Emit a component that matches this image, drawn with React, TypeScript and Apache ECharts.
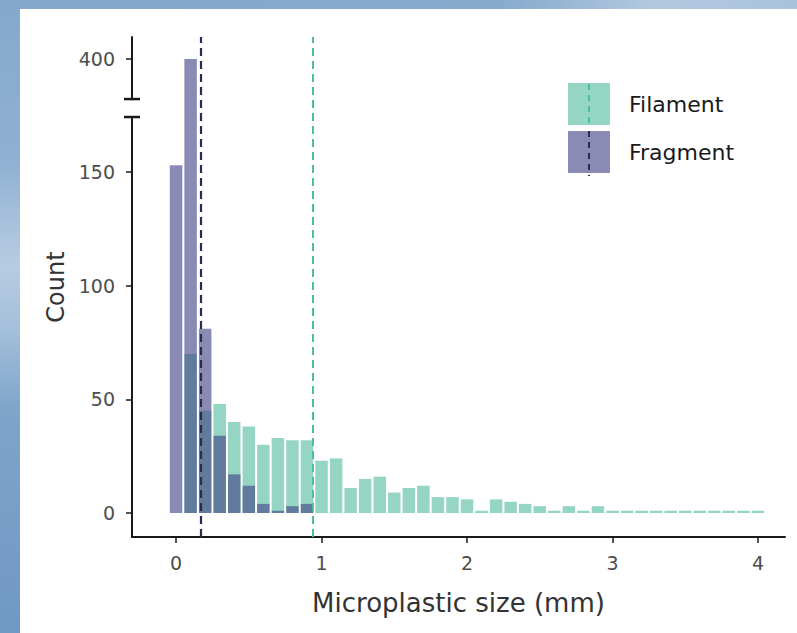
import React, { useEffect, useRef } from "react";
import * as echarts from "echarts";

// ---- data ----
const SIZE_BINS = [
  0, 0.1, 0.2, 0.3, 0.4, 0.5, 0.6, 0.7, 0.8, 0.9,
  1.0, 1.1, 1.2, 1.3, 1.4, 1.5, 1.6, 1.7, 1.8, 1.9,
  2.0, 2.1, 2.2, 2.3, 2.4, 2.5, 2.6, 2.7, 2.8, 2.9,
  3.0, 3.1, 3.2, 3.3, 3.4, 3.5, 3.6, 3.7, 3.8, 3.9, 4.0,
];
const FILAMENT_COUNTS = [
  0, 70, 45, 48, 40, 38, 30, 33, 32, 32,
  23, 24, 11, 15, 16, 9, 11, 12, 7, 7,
  6, 1, 6, 5, 4, 3, 1, 3, 1, 3,
  1, 1, 1, 1, 1, 1, 1, 1, 1, 1, 1,
];
const FRAGMENT_COUNTS = [153, 400, 81, 34, 17, 12, 4, 1, 3, 4, 0];
const FILAMENT_MEAN = 0.94;
const FRAGMENT_MEAN = 0.17;
const X_TICKS = [0, 1, 2, 3, 4];
const Y_TICKS = [0, 50, 100, 150, 400];

// ---- broken y axis (lower segment up to LOWER_MAX, upper segment from UPPER_MIN) ----
const LOWER_MAX = 174.2;
const UPPER_MIN = 382.4;
const GAP = 7.9;
const SHIFT = UPPER_MIN - (LOWER_MAX + GAP);
const toAxis = (v: number) => (v > LOWER_MAX ? v - SHIFT : v);
const fromAxis = (t: number) => (t > LOWER_MAX ? t + SHIFT : t);

const X_MIN = -0.303;
const X_MAX = 4.186;
const Y_MIN = -10.56;
const Y_MAX = 209.4;

const FONT = "DejaVu Sans";
const FIL_COLOR = "#22A884";
const FRAG_COLOR = "#414487";

export default function App() {
  const ref = useRef<HTMLDivElement>(null);

  useEffect(() => {
    if (!ref.current) return;
    const chart = echarts.init(ref.current, null, { renderer: "svg" });

    const filData = SIZE_BINS.map((x, i) => [x, toAxis(FILAMENT_COUNTS[i])]);
    const fragData = FRAGMENT_COUNTS.map((v, i) => [SIZE_BINS[i], toAxis(v)]);

    chart.setOption({
      animation: false,
      backgroundColor: "transparent",
      grid: { left: 132, right: 12, top: 37, bottom: 96, containLabel: false },
      legend: {
        left: 568,
        top: 83,
        orient: "vertical",
        icon: "rect",
        itemWidth: 42,
        itemHeight: 42,
        itemGap: 6,
        padding: 0,
        selectedMode: false,
        textStyle: { fontFamily: FONT, fontSize: 22, color: "#1a1a1a", padding: [0, 0, 0, 14] },
        data: ["Filament", "Fragment"],
      },
      xAxis: {
        type: "value",
        min: X_MIN,
        max: X_MAX,
        name: "Microplastic size (mm)",
        nameLocation: "middle",
        nameGap: 53,
        nameTextStyle: { fontFamily: FONT, fontSize: 26, color: "#333333" },
        axisLine: { show: true, onZero: false, lineStyle: { color: "#1a1a1a", width: 2 } },
        axisTick: { show: true, length: 6, customValues: X_TICKS, lineStyle: { color: "#1a1a1a", width: 1.5 } },
        axisLabel: {
          customValues: X_TICKS,
          fontFamily: FONT,
          fontSize: 19,
          color: "#4d4d4d",
          margin: 16,
        },
        splitLine: { show: false },
      },
      yAxis: {
        type: "value",
        min: Y_MIN,
        max: Y_MAX,
        name: "Count",
        nameLocation: "middle",
        nameGap: 55,
        nameTextStyle: { fontFamily: FONT, fontSize: 24, color: "#333333" },
        axisLine: { show: true, onZero: false, lineStyle: { color: "#1a1a1a", width: 2 } },
        axisTick: {
          show: true,
          length: 6,
          customValues: Y_TICKS.map(toAxis),
          lineStyle: { color: "#1a1a1a", width: 1.5 },
        },
        axisLabel: {
          customValues: Y_TICKS.map(toAxis),
          formatter: (t: number) => String(Math.round(fromAxis(t))),
          fontFamily: FONT,
          fontSize: 19,
          color: "#4d4d4d",
          margin: 17,
        },
        splitLine: { show: false },
      },
      series: [
        {
          name: "Filament",
          type: "bar",
          data: filData,
          barWidth: 12.5,
          barGap: "-100%",
          itemStyle: { color: FIL_COLOR, opacity: 0.48 },
          markLine: {
            silent: true,
            symbol: ["none", "none"],
            label: { show: false },
            lineStyle: { color: "#4cbf9c", type: [8, 5], width: 2, opacity: 1 },
            data: [{ xAxis: FILAMENT_MEAN }],
          },
        },
        {
          name: "Fragment",
          type: "bar",
          data: fragData,
          barWidth: 12.5,
          barGap: "-100%",
          itemStyle: { color: FRAG_COLOR, opacity: 0.62 },
          markLine: {
            silent: true,
            symbol: ["none", "none"],
            label: { show: false },
            lineStyle: { color: "#2a2a55", type: [8, 5], width: 2.2, opacity: 1 },
            data: [{ xAxis: FRAGMENT_MEAN }],
          },
        },
      ],
    });

    const pLow = chart.convertToPixel({ gridIndex: 0 }, [X_MIN, LOWER_MAX]) as number[];
    const pHigh = chart.convertToPixel({ gridIndex: 0 }, [X_MIN, LOWER_MAX + GAP]) as number[];
    const ax = pLow[0];
    const yLow = pLow[1];
    const yHigh = pHigh[1];

    const keyX = 568 + 21;
    chart.setOption({
      graphic: [
        {
          type: "rect",
          z: 100,
          shape: { x: ax - 4, y: yHigh + 1, width: 8, height: yLow - yHigh - 2 },
          style: { fill: "#ffffff" },
        },
        {
          type: "line",
          z: 101,
          shape: { x1: ax - 8, y1: yHigh, x2: ax + 8, y2: yHigh },
          style: { stroke: "#1a1a1a", lineWidth: 2.5 },
        },
        {
          type: "line",
          z: 101,
          shape: { x1: ax - 8, y1: yLow, x2: ax + 8, y2: yLow },
          style: { stroke: "#1a1a1a", lineWidth: 2.5 },
        },
        {
          type: "line",
          z: 101,
          shape: { x1: keyX, y1: 84, x2: keyX, y2: 125 },
          style: { stroke: "#4cbf9c", lineWidth: 2, lineDash: [6, 5] },
        },
        {
          type: "line",
          z: 101,
          shape: { x1: keyX, y1: 131, x2: keyX, y2: 176 },
          style: { stroke: "#2a2a55", lineWidth: 2, lineDash: [6, 5] },
        },
      ],
    });

    return () => chart.dispose();
  }, []);

  return (
    <div style={{ position: "fixed", left: 0, top: 0, width: 797, height: 633, overflow: "hidden" }}>
      <div
        style={{
          position: "absolute",
          left: 0,
          top: 0,
          width: 797,
          height: 633,
          background: "linear-gradient(90deg, #84a8cc 0%, #86a9cc 62%, #b2c9e0 82%, #a9c2dc 100%)",
        }}
      />
      <div
        style={{
          position: "absolute",
          left: 0,
          top: 0,
          width: 20,
          height: 633,
          background:
            "linear-gradient(180deg, #84a8cc 0%, #90b0d2 25%, #b7cce2 42%, #a4bfda 52%, #7ea4ca 65%, #6f98c4 100%)",
        }}
      />
      <div style={{ position: "absolute", left: 20, top: 9, width: 777, height: 624, background: "#ffffff" }} />
      <div ref={ref} style={{ position: "absolute", left: 0, top: 0, width: 797, height: 633 }} />
    </div>
  );
}
